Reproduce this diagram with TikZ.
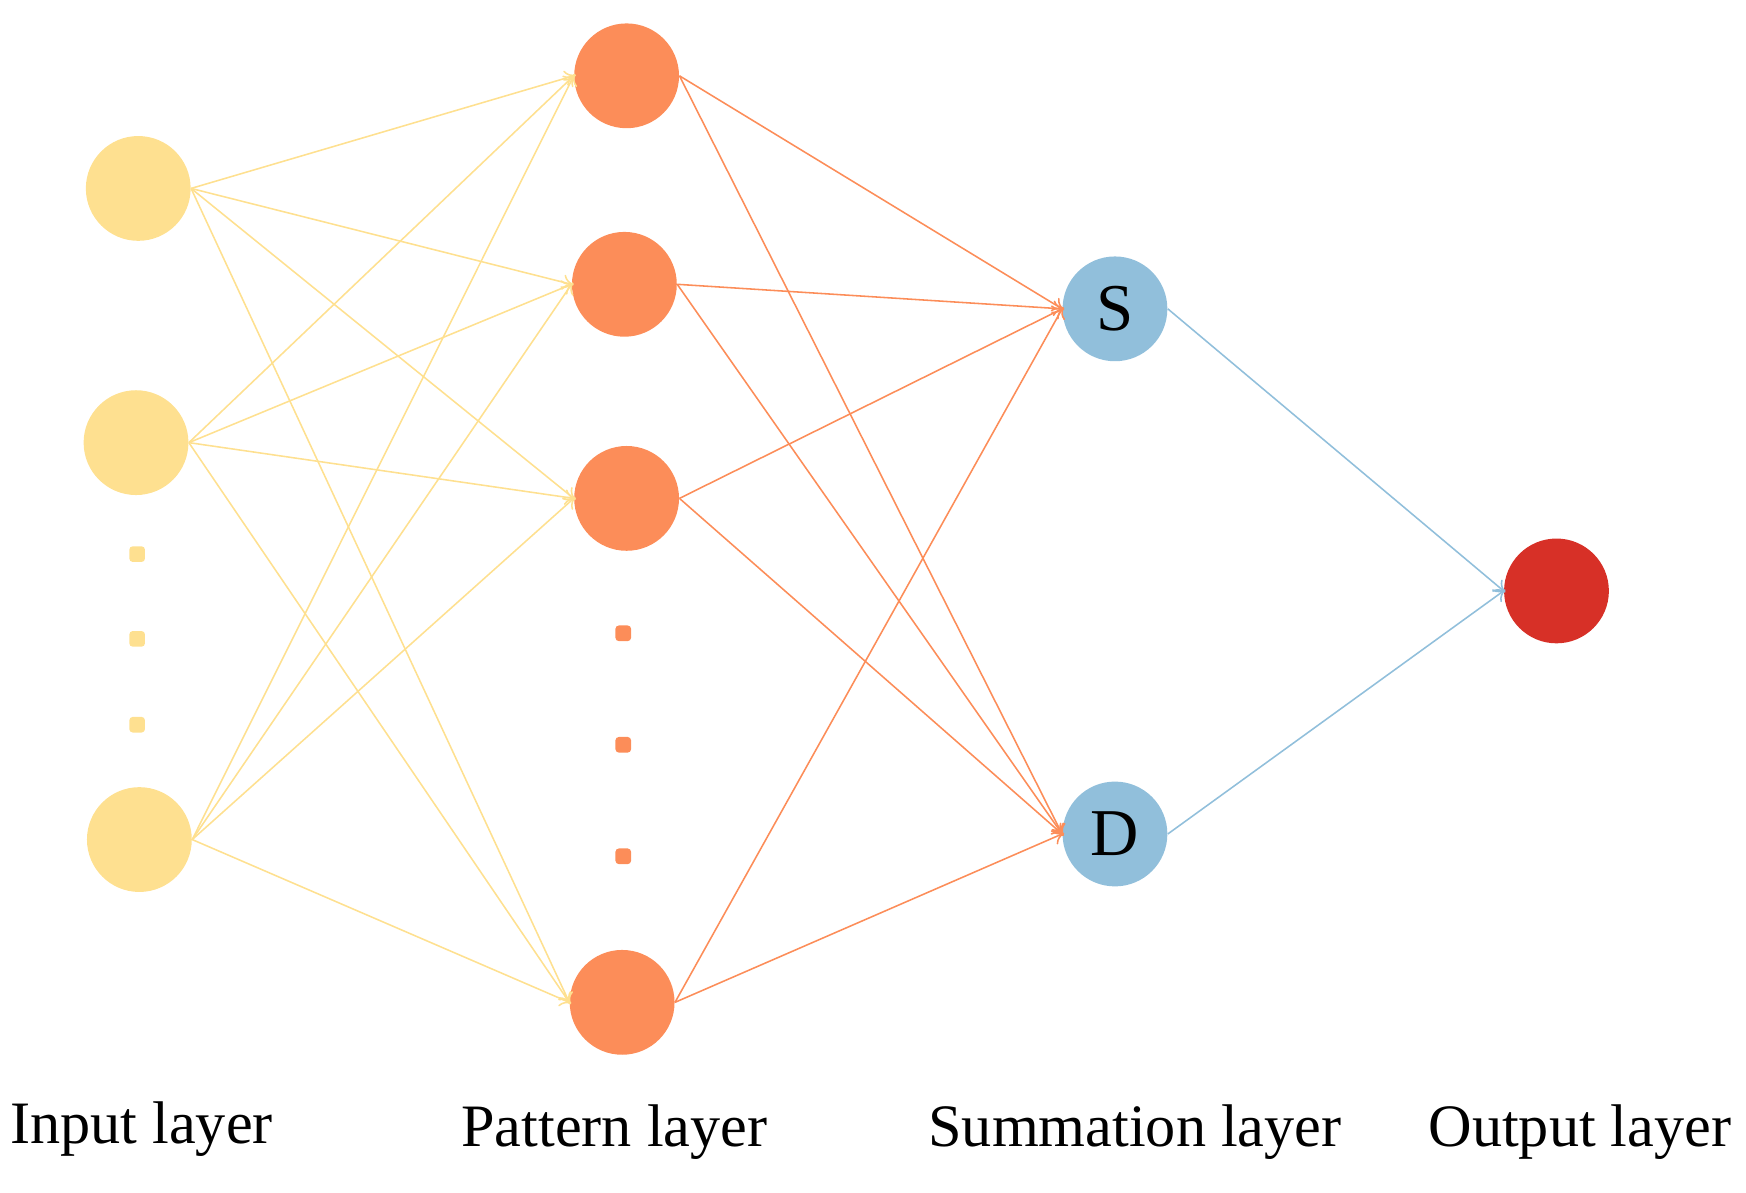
\documentclass[tikz,border=0pt]{standalone}
\usepackage{fontspec}
\setmainfont{Liberation Serif}
\usetikzlibrary{arrows.meta}
\definecolor{cin}{HTML}{FEE090}
\definecolor{cpat}{HTML}{FC8D59}
\definecolor{csum}{HTML}{91BFDB}
\definecolor{cout}{HTML}{D73027}
\begin{document}
\begin{tikzpicture}[x=0.5pt,y=-0.5pt,
  neuron/.style={circle,minimum size=47pt,inner sep=0pt,fill=#1,font=\fontsize{30}{32}\selectfont},
  dot/.style={rounded corners=1.5pt,minimum size=7pt,inner sep=0pt,fill=#1},
  edge/.style={draw=#1,line width=0.7pt,-{To[length=5pt,width=7pt]},shorten >=-1pt},
  lbl/.style={font=\fontsize{27}{30}\selectfont}]
\useasboundingbox (0,0) rectangle (1566,1070);
\node[neuron=cin] (i1) at (124,169) {};
\node[neuron=cin] (i2) at (122,397) {};
\node[neuron=cin] (i3) at (125,753) {};
\node[neuron=cpat] (p1) at (562,68) {};
\node[neuron=cpat] (p2) at (560,255) {};
\node[neuron=cpat] (p3) at (562,447) {};
\node[neuron=cpat] (p4) at (558,899) {};
\node[neuron=csum] (s) at (1000,277) {S};
\node[neuron=csum] (d) at (1000,748) {D};
\node[neuron=cout] (o) at (1396,530) {};
\node[dot=cin] (di1) at (123,497) {};
\node[dot=cin] (di2) at (123,573) {};
\node[dot=cin] (di3) at (123,650) {};
\node[dot=cpat] (dp1) at (559,568) {};
\node[dot=cpat] (dp2) at (559,668) {};
\node[dot=cpat] (dp3) at (559,768) {};
\foreach \a in {i1,i2,i3}{\foreach \b in {p1,p2,p3,p4}{\draw[edge=cin] (\a.east) -- (\b.west);}}
\foreach \a in {p1,p2,p3,p4}{\foreach \b in {s,d}{\draw[edge=cpat] (\a.east) -- (\b.west);}}
\draw[edge=csum] (s.east) -- (o.west);
\draw[edge=csum] (d.east) -- (o.west);
\node[lbl] (l1) at (127,1013) {Input layer};
\node[lbl] (l2) at (551,1015) {Pattern layer};
\node[lbl] (l3) at (1018,1015) {Summation layer};
\node[lbl] (l4) at (1417,1015) {Output layer};
\end{tikzpicture}
\end{document}
